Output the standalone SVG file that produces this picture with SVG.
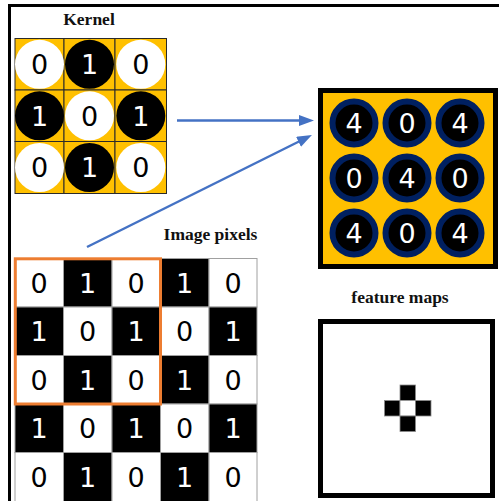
<svg xmlns="http://www.w3.org/2000/svg" width="499" height="501" viewBox="0 0 499 501">
  <style>
    .title { font-family: "Liberation Serif", "Times New Roman", serif; font-weight: bold; font-size: 17.5px; fill: #111; text-anchor: middle; }
    .num { font-family: "DejaVu Sans", "Liberation Sans", sans-serif; font-size: 27px; text-anchor: middle; }
    .dk { fill: #000; }
    .lt { fill: #fff; }
    .kcell { fill: #FFC000; stroke: #2a2a2a; stroke-width: 1; }
    .pix-w { fill: #fff; stroke: #a0a0a0; stroke-width: 1; }
    .pix-b { fill: #000; stroke: #a0a0a0; stroke-width: 1; }
    .ring { fill: #000; stroke: #002060; stroke-width: 6; }
    .arrow { stroke: #4472C4; stroke-width: 2.5; fill: none; marker-end: url(#head); }
    .fm { stroke: #8a8a8a; stroke-width: 0.8; }
  </style>
  <defs>
    <marker id="head" markerUnits="userSpaceOnUse" markerWidth="16" markerHeight="12" refX="5" refY="5.5" orient="auto">
      <path d="M0,0 L15,5.5 L0,11 z" fill="#4472C4"/>
    </marker>
  </defs>

  <rect width="499" height="501" fill="#fff"/>
  <!-- outer frame: top and left rules -->
  <path d="M9.5,501 V5.5 H499" fill="none" stroke="#000" stroke-width="3"/>

  <!-- kernel 3x3 -->
  <g id="kernel">
    <text class="title" x="89" y="25">Kernel</text>
    <rect class="kcell" x="15" y="38.5" width="49" height="51.5"/>
    <rect class="kcell" x="64" y="38.5" width="51" height="51.5"/>
    <rect class="kcell" x="115" y="38.5" width="51.5" height="51.5"/>
    <rect class="kcell" x="15" y="90" width="49" height="51.5"/>
    <rect class="kcell" x="64" y="90" width="51" height="51.5"/>
    <rect class="kcell" x="115" y="90" width="51.5" height="51.5"/>
    <rect class="kcell" x="15" y="141.5" width="49" height="52"/>
    <rect class="kcell" x="64" y="141.5" width="51" height="52"/>
    <rect class="kcell" x="115" y="141.5" width="51.5" height="52"/>

    <circle class="lt" cx="39.5" cy="64.3" r="24.5"/>
    <circle class="dk" cx="89.5" cy="64.3" r="24.5"/>
    <circle class="lt" cx="140.8" cy="64.3" r="24.5"/>
    <circle class="dk" cx="39.5" cy="115.8" r="24.5"/>
    <circle class="lt" cx="89.5" cy="115.8" r="24.5"/>
    <circle class="dk" cx="140.8" cy="115.8" r="24.5"/>
    <circle class="lt" cx="39.5" cy="167.5" r="24.5"/>
    <circle class="dk" cx="89.5" cy="167.5" r="24.5"/>
    <circle class="lt" cx="140.8" cy="167.5" r="24.5"/>

    <text class="num dk" x="39.5" y="74.3">0</text>
    <text class="num lt" x="89.5" y="74.3">1</text>
    <text class="num dk" x="140.8" y="74.3">0</text>
    <text class="num lt" x="39.5" y="125.8">1</text>
    <text class="num dk" x="89.5" y="125.8">0</text>
    <text class="num lt" x="140.8" y="125.8">1</text>
    <text class="num dk" x="39.5" y="177.3">0</text>
    <text class="num lt" x="89.5" y="177.3">1</text>
    <text class="num dk" x="140.8" y="177.3">0</text>
  </g>

  <!-- convolution output -->
  <g id="output">
    <rect x="320.5" y="90.5" width="175" height="176" fill="#FFC000" stroke="#000" stroke-width="5"/>
    <circle class="ring" cx="354" cy="123" r="21.5"/>
    <circle class="ring" cx="407" cy="123" r="21.5"/>
    <circle class="ring" cx="460" cy="123" r="21.5"/>
    <circle class="ring" cx="354" cy="178" r="21.5"/>
    <circle class="ring" cx="407" cy="178" r="21.5"/>
    <circle class="ring" cx="460" cy="178" r="21.5"/>
    <circle class="ring" cx="354" cy="233" r="21.5"/>
    <circle class="ring" cx="407" cy="233" r="21.5"/>
    <circle class="ring" cx="460" cy="233" r="21.5"/>
    <text class="num lt" x="354" y="132.8">4</text>
    <text class="num lt" x="407" y="132.8">0</text>
    <text class="num lt" x="460" y="132.8">4</text>
    <text class="num lt" x="354" y="187.8">0</text>
    <text class="num lt" x="407" y="187.8">4</text>
    <text class="num lt" x="460" y="187.8">0</text>
    <text class="num lt" x="354" y="242.8">4</text>
    <text class="num lt" x="407" y="242.8">0</text>
    <text class="num lt" x="460" y="242.8">4</text>
  </g>

  <!-- input image 5x5 -->
  <g id="image-pixels">
    <text class="title" x="210.5" y="240">Image pixels</text>
    <!-- row 1 -->
    <rect class="pix-w" x="15" y="258.5" width="48.5" height="48.5"/>
    <rect class="pix-b" x="63.5" y="258.5" width="48.5" height="48.5"/>
    <rect class="pix-w" x="112" y="258.5" width="48.5" height="48.5"/>
    <rect class="pix-b" x="160.5" y="258.5" width="48.5" height="48.5"/>
    <rect class="pix-w" x="209" y="258.5" width="48" height="48.5"/>
    <!-- row 2 -->
    <rect class="pix-b" x="15" y="307" width="48.5" height="48.5"/>
    <rect class="pix-w" x="63.5" y="307" width="48.5" height="48.5"/>
    <rect class="pix-b" x="112" y="307" width="48.5" height="48.5"/>
    <rect class="pix-w" x="160.5" y="307" width="48.5" height="48.5"/>
    <rect class="pix-b" x="209" y="307" width="48" height="48.5"/>
    <!-- row 3 -->
    <rect class="pix-w" x="15" y="355.5" width="48.5" height="48.5"/>
    <rect class="pix-b" x="63.5" y="355.5" width="48.5" height="48.5"/>
    <rect class="pix-w" x="112" y="355.5" width="48.5" height="48.5"/>
    <rect class="pix-b" x="160.5" y="355.5" width="48.5" height="48.5"/>
    <rect class="pix-w" x="209" y="355.5" width="48" height="48.5"/>
    <!-- row 4 -->
    <rect class="pix-b" x="15" y="404" width="48.5" height="48.5"/>
    <rect class="pix-w" x="63.5" y="404" width="48.5" height="48.5"/>
    <rect class="pix-b" x="112" y="404" width="48.5" height="48.5"/>
    <rect class="pix-w" x="160.5" y="404" width="48.5" height="48.5"/>
    <rect class="pix-b" x="209" y="404" width="48" height="48.5"/>
    <!-- row 5 -->
    <rect class="pix-w" x="15" y="452.5" width="48.5" height="50"/>
    <rect class="pix-b" x="63.5" y="452.5" width="48.5" height="50"/>
    <rect class="pix-w" x="112" y="452.5" width="48.5" height="50"/>
    <rect class="pix-b" x="160.5" y="452.5" width="48.5" height="50"/>
    <rect class="pix-w" x="209" y="452.5" width="48" height="50"/>

    <text class="num dk" x="39.2" y="292.8">0</text>
    <text class="num lt" x="87.7" y="292.8">1</text>
    <text class="num dk" x="136.2" y="292.8">0</text>
    <text class="num lt" x="184.7" y="292.8">1</text>
    <text class="num dk" x="233" y="292.8">0</text>

    <text class="num lt" x="39.2" y="341.3">1</text>
    <text class="num dk" x="87.7" y="341.3">0</text>
    <text class="num lt" x="136.2" y="341.3">1</text>
    <text class="num dk" x="184.7" y="341.3">0</text>
    <text class="num lt" x="233" y="341.3">1</text>

    <text class="num dk" x="39.2" y="389.8">0</text>
    <text class="num lt" x="87.7" y="389.8">1</text>
    <text class="num dk" x="136.2" y="389.8">0</text>
    <text class="num lt" x="184.7" y="389.8">1</text>
    <text class="num dk" x="233" y="389.8">0</text>

    <text class="num lt" x="39.2" y="438.3">1</text>
    <text class="num dk" x="87.7" y="438.3">0</text>
    <text class="num lt" x="136.2" y="438.3">1</text>
    <text class="num dk" x="184.7" y="438.3">0</text>
    <text class="num lt" x="233" y="438.3">1</text>

    <text class="num dk" x="39.2" y="486.8">0</text>
    <text class="num lt" x="87.7" y="486.8">1</text>
    <text class="num dk" x="136.2" y="486.8">0</text>
    <text class="num lt" x="184.7" y="486.8">1</text>
    <text class="num dk" x="233" y="486.8">0</text>

    <!-- receptive window -->
    <rect x="15.3" y="258.8" width="145.2" height="145.2" fill="none" stroke="#ED7D31" stroke-width="3"/>
  </g>

  <!-- resulting feature map -->
  <g id="feature-maps">
    <text class="title" x="400" y="303">feature maps</text>
    <rect x="320.5" y="321.5" width="172" height="174" fill="#fff" stroke="#000" stroke-width="5"/>
    <rect class="fm" x="400" y="385" width="15.5" height="15.5" fill="#000"/>
    <rect class="fm" x="384.5" y="400.5" width="15.5" height="15.5" fill="#000"/>
    <rect class="fm" x="400" y="400.5" width="15.5" height="15.5" fill="#fff"/>
    <rect class="fm" x="415.5" y="400.5" width="15.5" height="15.5" fill="#000"/>
    <rect class="fm" x="400" y="416" width="15.5" height="15.5" fill="#000"/>
  </g>

  <g id="connectors">
    <line class="arrow" x1="177" y1="120.5" x2="304" y2="120.5"/>
    <line class="arrow" x1="87" y1="247" x2="303" y2="139.5"/>
  </g>
</svg>
